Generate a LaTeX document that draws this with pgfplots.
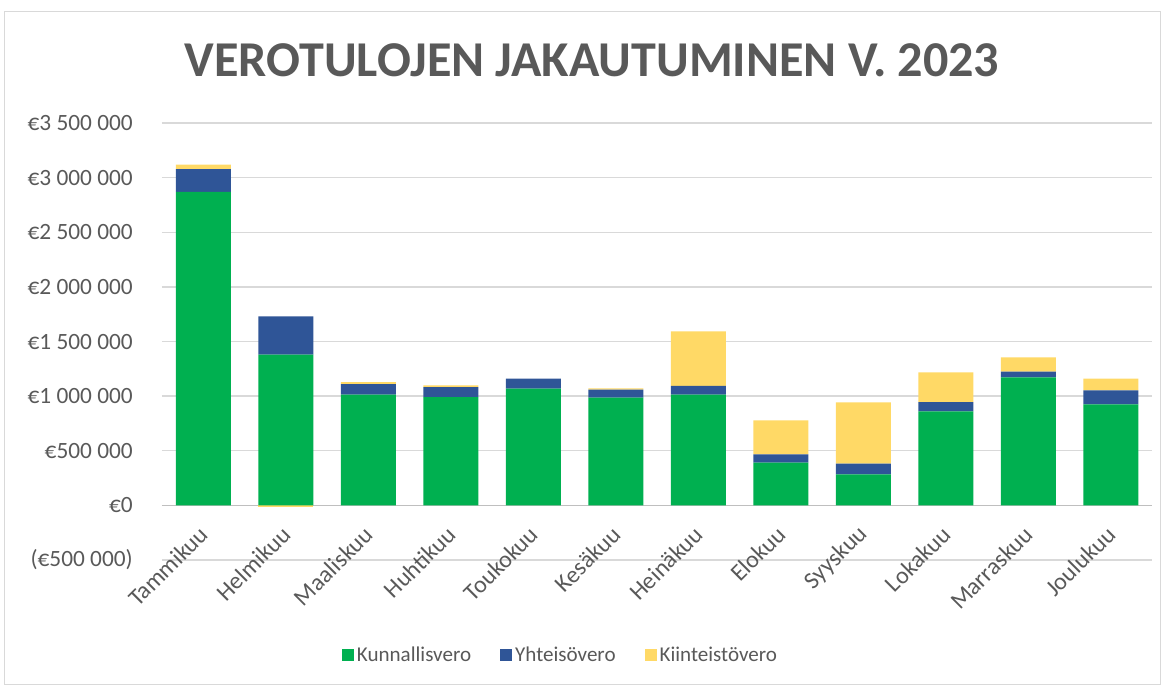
\documentclass[border=0pt]{standalone}
\usepackage{pgfplots}
\usepackage{pgfplotstable}
\pgfplotsset{compat=1.18}
\usepackage{fontspec}
\setmainfont{Carlito}
\definecolor{kgreen}{HTML}{00B050}
\definecolor{yblue}{HTML}{2F5597}
\definecolor{kyellow}{HTML}{FFD966}
\definecolor{txt}{HTML}{595959}
\definecolor{gridc}{HTML}{D9D9D9}
\definecolor{axisc}{HTML}{BFBFBF}
\pgfplotstableread{
x K Y Ki
0 2869000 208000 43000
1 1380000 351000 0
2 1014000 97000 18000
3 992000 91000 16000
4 1069000 91000 0
5 986000 74000 11000
6 1014000 79000 500000
7 391000 76000 311000
8 284000 98000 561000
9 861000 85000 272000
10 1172000 52000 131000
11 925000 128000 107000
}\data
\begin{document}
\begin{tikzpicture}
\path[use as bounding box] (0,0) rectangle (875.25pt,-514.5pt);
\draw[gridc, line width=0.75pt] (3pt,-8.25pt) rectangle (870pt,-513pt);
\node[text=txt, font=\fontsize{37.6}{44}\selectfont\bfseries] at (444pt,-45pt) {VEROTULOJEN JAKAUTUMINEN V. 2023};
\begin{axis}[
  at={(121.5pt,-420pt)}, anchor=south west,
  scale only axis, width=742.5pt, height=327.75pt,
  ybar stacked, bar width=41.25pt,
  xmin=-0.5, xmax=11.5, ymin=-500000, ymax=3500000,
  xtick={0,...,11},
  xticklabels={Tammikuu,Helmikuu,Maaliskuu,Huhtikuu,Toukokuu,Kesäkuu,Heinäkuu,Elokuu,Syyskuu,Lokakuu,Marraskuu,Joulukuu},
  ytick={-500000,0,500000,1000000,1500000,2000000,2500000,3000000,3500000},
  yticklabels={(€500 000),€0,€500 000,€1 000 000,€1 500 000,€2 000 000,€2 500 000,€3 000 000,€3 500 000},
  scaled y ticks=false,
  axis x line*=middle, axis y line*=left,
  x axis line style={-, draw=axisc, line width=1.1pt},
  y axis line style={draw=none},
  major tick length=0pt,
  ymajorgrids, grid style={gridc, line width=1.1pt},
  yticklabel style={font=\fontsize{17.5}{20}\selectfont, text=txt, anchor=east, inner sep=0pt, xshift=-21.75pt},
  xticklabel style={font=\fontsize{18}{20}\selectfont, text=txt, rotate=45, anchor=east, inner sep=0pt, xshift=-13pt, yshift=-13.6pt},
  legend columns=3,
  legend style={at={(rel axis cs:0.403,-0.2174)}, anchor=center, draw=none, fill=none,
    font=\fontsize{15.8}{19}\selectfont, text=txt,
    /tikz/every even column/.append style={column sep=20pt}},
  legend image code/.code={\fill[#1] (0pt,-4.5pt) rectangle (9pt,4.5pt);},
  clip=false,
]
\addplot[fill=kgreen, draw=none] table[x=x, y=K] {\data};
\addlegendentry{Kunnallisvero}
\addplot[fill=yblue, draw=none] table[x=x, y=Y] {\data};
\addlegendentry{Yhteisövero}
\addplot[fill=kyellow, draw=none] table[x=x, y=Ki] {\data};
\addlegendentry{Kiinteistövero}
\addplot[fill=kyellow, draw=none, stack plots=false, forget plot] coordinates {(1,-15000)};
\end{axis}
\end{tikzpicture}
\end{document}
